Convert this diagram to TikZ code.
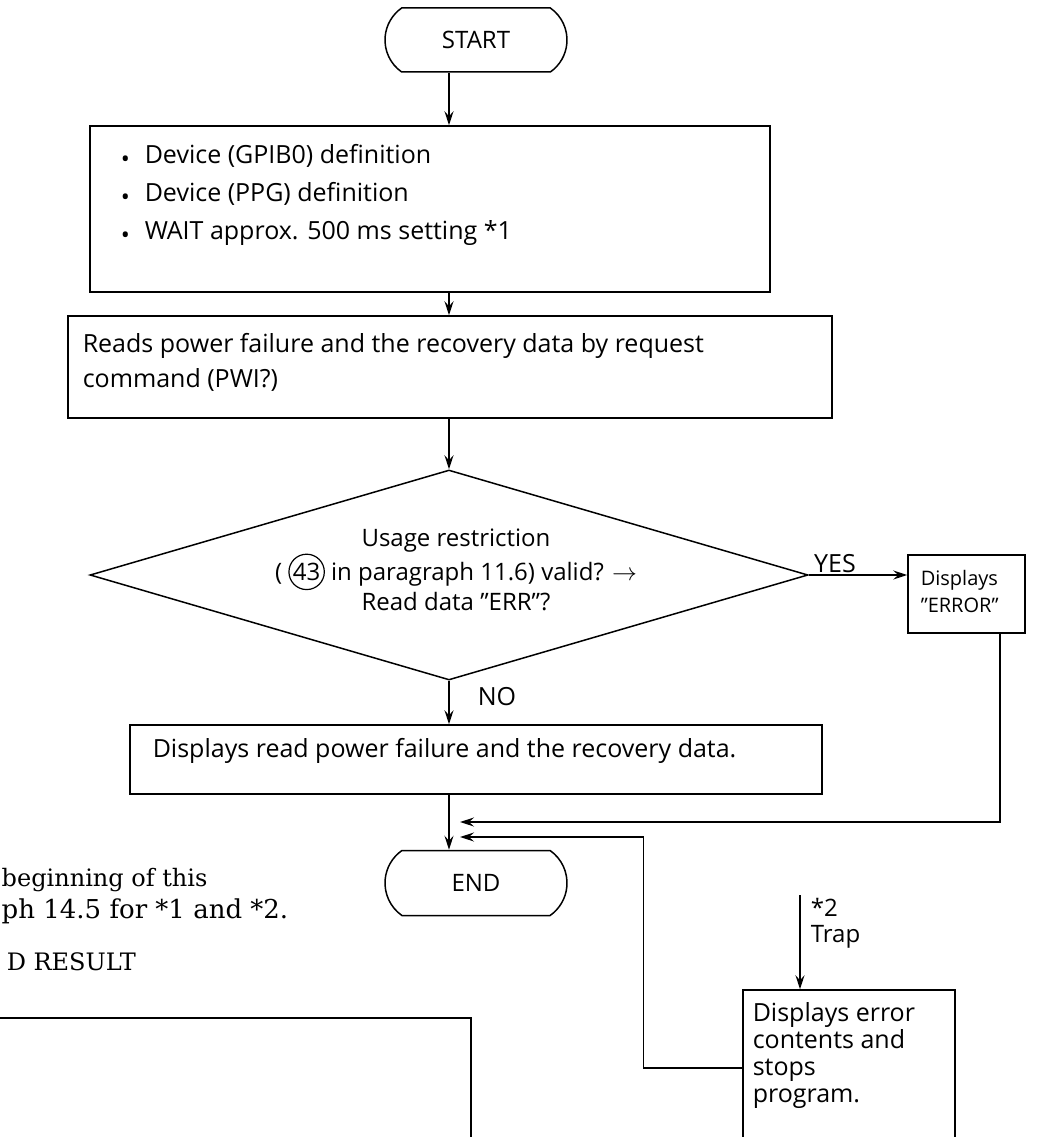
\documentclass[tikz,border=0pt]{standalone}
\usepackage{fontspec}
\setmainfont{Open Sans}
\newfontfamily\pagefont{DejaVu Serif}
\usetikzlibrary{arrows.meta,shapes.misc,shapes.geometric}
\newcommand\blt{\makebox[24pt][l]{\raisebox{-4pt}{\fontsize{24}{24}\selectfont •}}}
\begin{document}
\begin{tikzpicture}[x=1pt,y=-1pt,line width=1.5pt,
  txt/.style={inner sep=0pt,font=\fontsize{25}{36}\selectfont},
  boxnode/.style={draw,rectangle,inner sep=0pt},
  term/.style={draw,rounded rectangle,rounded rectangle arc length=110,inner sep=0pt,font=\fontsize{24}{28}\selectfont},
  arr/.style={-{Stealth[length=14pt,width=9pt,inset=5pt]}},
  pg/.style={inner sep=0pt,font=\pagefont\fontsize{24}{30}\selectfont},
  ]
\useasboundingbox (0,0) rectangle (1055,1137);
\coordinate (ax) at (449,0);
% terminals
\node[term,minimum width=182pt,minimum height=64pt] (start) at (476,40) {START};
\node[term,minimum width=182pt,minimum height=65pt] (endn) at (476,883) {END};
% box 1
\node[boxnode,minimum width=680pt,minimum height=166pt] (b1) at (430,209) {};
\node[txt,anchor=west,align=left,font=\fontsize{25}{38}\selectfont] (b1t) at (120,195)
  {\blt Device (GPIB0) definition\\ \blt Device (PPG) definition\\ \blt WAIT approx. 500 ms setting *1};
% box 2
\node[boxnode,minimum width=764pt,minimum height=102pt] (b2) at (450,367) {};
\node[txt,anchor=west,align=left,font=\fontsize{25}{35}\selectfont] (b2t) at (82,362)
  {Reads power failure and the recovery data by request\\command (PWI?)};
% decision
\node[draw,diamond,inner sep=0pt,minimum width=718pt,minimum height=210pt] (dec) at (449,575) {};
\node[txt,align=center,font=\fontsize{24}{30}\selectfont] (dect) at (456,570)
  {Usage restriction\\( \tikz[baseline=(c.base)]\node[draw,circle,line width=1.2pt,inner sep=1pt] (c) {43}; in paragraph 11.6) valid? $\rightarrow$\\Read data "ERR"?};
\node[txt] (yes) at (835,564) {YES};
\node[txt] (no) at (497,697) {NO};
% error box
\node[boxnode,minimum width=117pt,minimum height=78pt] (err) at (966.5,594) {};
\node[txt,anchor=west,align=left,font=\fontsize{20}{27}\selectfont] (errt) at (920,591) {Displays\\"ERROR"};
% display box
\node[boxnode,minimum width=692pt,minimum height=69pt] (disp) at (476,759.5) {};
\node[txt,anchor=west] (dispt) at (152,751) {Displays read power failure and the recovery data.};
% trap box
\node[boxnode,minimum width=212pt,minimum height=220pt] (trap) at (849,1100) {};
\node[txt,anchor=north west,align=left,font=\fontsize{25}{27}\selectfont] (trapt) at (752,1002)
  {Displays error\\contents and\\stops\\program.};
\coordinate (trapin) at (800,895);
\node[txt,anchor=north west,align=left,font=\fontsize{24}{26}\selectfont] (traplbl) at (810,898) {*2\\Trap};
% merge points
\coordinate (m1) at (460,822);
\coordinate (m2) at (460,837);
\coordinate (ty) at (0,1068);
% connectors
\draw[arr] (start.south -| ax) -- (b1.north -| ax);
\draw[arr] (b1.south -| ax) -- (b2.north -| ax);
\draw[arr] (b2.south -| ax) -- (dec.north);
\draw[arr] (dec.south) -- (disp.north -| ax);
\draw[arr] (dec.east) -- (err.west |- dec.east);
\draw[arr] ([xshift=33.5pt]err.south) |- (m1);
\draw[arr] (disp.south -| ax) -- (endn.north -| ax);
\draw[arr] (trapin) -- (trap.north -| trapin);
\draw[arr] (trap.west |- ty) -- ++(-99,0) |- (m2);
% page fragments at left
\node[pg,anchor=west] (p1) at (1,880) {beginning of this};
\node[pg,anchor=west,font=\pagefont\fontsize{26}{30}\selectfont] (p2) at (1,911) {ph 14.5 for *1 and *2.};
\node[pg,anchor=west] (p3) at (6,962) {D RESULT};
\draw (-10,1018) -- (471,1018) -- (471,1150);
\end{tikzpicture}
\end{document}
